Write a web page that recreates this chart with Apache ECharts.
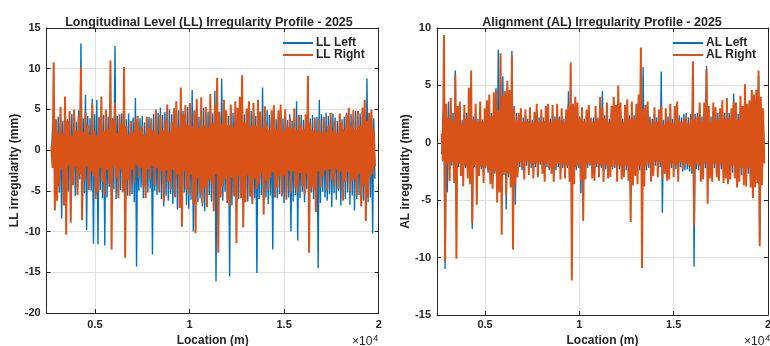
<!DOCTYPE html>
<html>
<head>
<meta charset="utf-8">
<script src="https://cdn.jsdelivr.net/npm/echarts@6/dist/echarts.min.js"></script>
<style>
  html, body { margin: 0; padding: 0; background: #fff; }
  #chart { width: 770px; height: 346px; }
</style>
</head>
<body>
<div id="chart"></div>
<script>
// sampling grid of the track location (m)
const locStart = 2700;
const locStep = 60;
const xTicks = [5000, 10000, 15000, 20000];

// Longitudinal level (mm)
const llLeft = [
  -0.8, 2.9, 4.4, -4.2, 3.6, -3.9, 4.1, -5.2, 3.3, -8.4,
  3.6, -4.4, 5.2, -7.6, 3.8, -5.1, 3.2, -4.8, 4.4, -3.9,
  4.6, -5.6, 3.5, -4.7, 4.9, -3.6, 13.1, -6.5, 3.9, -5.3,
  6.8, -9.8, 4.2, -4.6, 3.9, -5.0, 6.3, -11.5, 4.4, -5.4,
  6.2, -11.6, 4.0, -4.9, 3.6, -5.9, 4.3, -11.7, 5.0, -5.8,
  4.1, -4.5, 4.0, -5.1, 3.9, -4.8, 12.8, -6.0, 4.2, -5.3,
  3.7, -4.9, 4.5, -5.2, 4.4, -6.3, 3.8, -5.6, 4.5, -4.2,
  3.6, -5.4, 4.0, -6.4, 6.4, -14.3, 3.5, -5.0, 3.9, -4.6,
  4.2, -5.9, 3.4, -4.3, 3.8, -5.2, 4.1, -4.7, 3.5, -12.8,
  4.4, -5.0, 3.9, -5.5, 4.6, -4.8, 5.2, -6.0, 4.3, -6.9,
  4.7, -5.6, 4.0, -6.2, 5.0, -5.4, 4.4, -6.6, 5.1, -5.8,
  4.6, -7.3, 4.9, -6.3, 4.5, -5.9, 4.8, -5.2, 4.2, -6.7,
  5.3, -7.2, 4.6, -6.1, 7.4, -10.0, 4.9, -5.7, 5.5, -6.4,
  4.1, -5.9, 4.8, -6.9, 5.2, -7.5, 4.4, -6.0, 4.7, -5.5,
  4.5, -6.3, 4.5, -5.8, 7.3, -16.1, 4.9, -8.2, 4.3, -5.6,
  8.8, -6.2, 4.6, -5.1, 3.8, -5.9, 4.2, -15.5, 4.9, -6.8,
  4.6, -5.4, 4.1, -5.7, 3.9, -6.0, 4.3, -5.2, 3.7, -5.8,
  4.4, -5.0, 3.6, -6.3, 4.0, -5.5, 4.8, -6.2, 4.4, -5.9,
  4.2, -15.1, 4.4, -6.0, 4.7, -5.5, 7.7, -6.3, 4.5, -5.8,
  4.9, -6.6, 4.3, -5.6, 4.0, -12.2, 4.6, -5.1, 3.8, -5.9,
  4.2, -5.4, 4.1, -5.7, 3.9, -6.5, 4.3, -5.2, 3.7, -5.8,
  4.4, -10.0, 3.6, -6.3, 4.0, -5.5, 6.0, -11.1, 4.2, -5.9,
  4.3, -5.1, 3.7, -6.4, 4.0, -4.8, 3.5, -5.6, 3.9, -5.2,
  4.3, -6.0, 3.6, -5.3, 4.1, -14.5, 6.2, -6.5, 4.4, -5.1,
  3.7, -5.8, 4.6, -6.2, 4.2, -5.4, 3.9, -7.0, 4.5, -5.3,
  4.0, -6.1, 3.6, -5.0, 4.3, -6.8, 3.8, -5.4, 4.1, -6.0,
  4.6, -5.2, 4.0, -6.7, 4.4, -5.6, 3.9, -7.4, 4.8, -6.0,
  4.2, -5.5, 4.5, -6.9, 4.1, -6.2, 4.6, -7.0, 8.8, -6.4,
  4.5, -5.8, 4.0, -10.2, 3.9, -3.5
];
const llRight = [
  0.5, -2.2, 10.8, -7.4, 3.8, -6.2, 2.1, -4.4, 5.3, -2.4,
  2.0, -6.8, 6.6, -10.4, 3.6, -1.9, 4.8, -8.9, 1.8, -4.3,
  5.0, -2.1, 2.4, -5.5, 4.2, -3.0, 10.2, -8.6, 2.2, -3.8,
  4.6, -2.0, 3.1, -4.9, 1.9, -2.6, 5.7, -3.2, 2.5, -6.0,
  1.8, -5.1, 4.0, -2.2, 6.6, -3.9, 2.3, -5.5, 4.9, -2.4,
  2.6, -4.2, 11.0, -12.2, 3.7, -2.0, 5.8, -3.4, 2.1, -5.9,
  4.4, -2.3, 3.2, -5.0, 10.2, -13.2, 2.9, -3.6, 1.9, -5.6,
  3.5, -2.4, 2.2, -4.1, 3.8, -1.8, 4.2, -3.3, 2.6, -2.2,
  3.0, -4.6, 1.9, -5.9, 4.1, -2.3, 2.7, -3.6, 3.9, -2.0,
  2.4, -4.4, 5.0, -2.2, 2.0, -5.2, 4.3, -2.6, 2.5, -6.3,
  3.6, -2.5, 5.6, -3.9, 2.2, -4.8, 3.4, -2.4, 5.1, -5.7,
  6.0, -3.0, 2.8, -7.1, 7.7, -9.4, 4.4, -2.6, 5.5, -4.9,
  3.1, -5.5, 5.8, -3.0, 2.9, -6.6, 4.8, -10.2, 6.3, -3.4,
  2.7, -5.2, 6.5, -6.4, 3.0, -4.6, 5.3, -7.0, 2.8, -3.6,
  6.9, -4.1, 3.3, -7.5, 5.6, -3.0, 8.9, -12.6, 4.7, -5.8,
  3.2, -4.4, 6.2, -3.5, 4.9, -6.5, 3.1, -6.8, 5.6, -3.3,
  2.9, -5.7, 6.0, -11.4, 5.2, -3.2, 6.6, -5.9, 9.2, -9.5,
  3.4, -6.4, 5.1, -3.1, 6.0, -5.7, 2.9, -6.6, 5.8, -3.5,
  3.0, -4.8, 6.2, -4.1, 4.7, -3.0, 2.8, -7.9, 5.4, -3.8,
  3.1, -5.0, 2.6, -3.4, 4.9, -2.7, 5.5, -5.8, 2.6, -4.6,
  4.9, -3.2, 5.6, -5.6, 2.4, -3.1, 5.0, -6.1, 2.8, -2.5,
  4.0, -5.3, 2.7, -2.6, 5.1, -4.6, 2.5, -5.2, 4.3, -2.8,
  3.1, -4.4, 2.6, -5.4, 4.4, -3.0, 9.1, -12.6, 3.3, -4.6,
  2.5, -5.0, 4.0, -7.6, 2.3, -2.6, 3.8, -4.6, 2.2, -3.2,
  4.1, -2.5, 2.2, -5.0, 3.0, -2.3, 4.6, -3.6, 2.4, -4.4,
  3.6, -2.4, 2.1, -4.8, 4.5, -2.6, 3.4, -6.2, 2.6, -3.9,
  4.4, -2.7, 5.2, -5.1, 2.9, -3.8, 4.9, -3.6, 2.6, -5.6,
  4.8, -2.9, 3.0, -6.9, 5.2, -4.3, 6.2, -8.7, 3.6, -5.8,
  4.6, -3.3, 5.0, -3.0, 2.6, -2.0
];

// Alignment (mm)
const alLeft = [
  -1.0, 2.2, 3.0, -11.0, 2.6, -4.3, 3.6, -2.3, 2.4, -2.0,
  2.6, -2.8, 6.3, -3.4, 2.2, -2.1, 3.2, -2.5, 2.0, -2.7,
  2.5, -2.2, 2.6, -2.4, 3.9, -2.6, 2.4, -7.5, 2.3, -2.1,
  2.6, -2.4, 2.1, -2.6, 3.0, -2.3, 2.0, -2.8, 2.5, -2.2,
  2.8, -2.6, 3.2, -3.0, 2.6, -3.3, 3.1, -2.7, 4.8, -3.6,
  8.1, -3.4, 5.5, -3.9, 5.8, -2.8, 3.5, -5.8, 5.0, -3.0,
  3.6, -3.1, 8.0, -3.5, 3.2, -5.4, 2.6, -2.6, 2.3, -2.1,
  2.5, -2.4, 2.2, -2.7, 2.4, -2.0, 2.1, -2.3, 2.5, -2.2,
  2.0, -2.5, 2.3, -2.1, 2.7, -2.6, 2.2, -1.9, 2.4, -2.3,
  2.2, -2.7, 2.5, -2.1, 2.8, -2.4, 2.1, -2.2, 2.6, -2.9,
  2.3, -2.4, 2.7, -2.1, 2.3, -2.6, 2.4, -2.2, 2.1, -2.5,
  2.3, -2.2, 4.5, -2.8, 2.6, -2.9, 2.6, -2.9, 3.2, -2.4,
  2.7, -2.2, 2.3, -4.4, 2.4, -3.4, 2.1, -2.5, 2.3, -2.2,
  2.6, -2.0, 2.2, -2.4, 2.2, -2.7, 2.5, -2.1, 2.2, -2.3,
  3.4, -2.2, 4.5, -2.6, 2.4, -2.3, 2.7, -2.4, 2.1, -2.3,
  2.5, -2.3, 3.6, -2.2, 2.6, -2.6, 3.3, -2.3, 2.7, -2.4,
  2.1, -2.3, 2.5, -2.4, 2.9, -2.5, 2.4, -4.2, 2.7, -2.8,
  2.4, -2.2, 2.6, -2.7, 3.4, -2.4, 4.0, -3.6, 6.6, -2.9,
  2.5, -2.4, 2.8, -2.2, 2.3, -2.6, 2.1, -2.3, 2.4, -2.0,
  2.2, -2.4, 2.3, -2.1, 6.2, -6.1, 2.0, -2.2, 2.4, -2.5,
  2.3, -2.5, 2.6, -2.2, 2.1, -2.4, 2.5, -2.3, 2.7, -2.6,
  2.4, -2.1, 2.2, -2.5, 2.5, -2.4, 2.6, -2.3, 2.2, -2.5,
  2.5, -2.7, 5.8, -10.8, 2.5, -2.3, 2.6, -2.4, 2.8, -2.7,
  2.3, -2.5, 2.7, -2.2, 6.7, -3.5, 2.5, -2.5, 2.3, -2.6,
  2.7, -2.2, 2.5, -2.4, 2.6, -2.6, 2.4, -2.3, 2.9, -2.7,
  2.6, -2.5, 3.1, -2.8, 2.6, -2.5, 2.4, -2.6, 4.3, -2.5,
  2.7, -3.0, 2.5, -2.7, 3.2, -2.8, 2.6, -2.9, 3.6, -3.0,
  2.8, -2.7, 3.6, -3.1, 4.5, -3.9, 3.3, -3.1, 3.7, -2.9,
  5.8, -8.4, 3.2, -2.9, 2.4, -1.7
];
const alRight = [
  0.8, -1.6, 9.4, -10.4, 3.4, -1.8, 2.2, -3.3, 3.9, -1.7,
  1.9, -3.5, 5.9, -10.1, 3.2, -1.8, 3.6, -2.9, 1.7, -3.8,
  3.3, -2.0, 2.1, -3.1, 4.8, -3.6, 6.3, -7.0, 2.0, -1.9,
  3.4, -5.4, 1.8, -2.9, 3.6, -2.1, 1.9, -3.5, 3.0, -2.0,
  3.7, -2.4, 4.2, -3.6, 2.3, -4.0, 4.4, -2.5, 4.6, -5.2,
  2.8, -4.3, 7.8, -8.0, 4.1, -2.6, 4.5, -4.6, 5.4, -2.7,
  4.6, -3.9, 7.6, -9.3, 2.9, -3.6, 2.0, -3.0, 2.6, -1.7,
  3.0, -2.2, 1.8, -3.2, 2.9, -1.6, 1.9, -2.8, 3.1, -1.8,
  1.7, -3.1, 2.7, -1.8, 3.4, -3.0, 1.8, -1.7, 2.9, -2.7,
  1.9, -3.4, 3.2, -1.8, 3.4, -2.2, 1.8, -2.7, 3.3, -3.4,
  2.0, -2.1, 3.4, -1.8, 2.0, -3.2, 3.0, -1.9, 1.8, -3.1,
  2.9, -2.0, 3.3, -3.4, 7.0, -12.0, 3.4, -3.6, 4.0, -2.1,
  3.5, -1.9, 2.1, -3.3, 3.1, -6.8, 1.9, -3.2, 2.9, -1.9,
  3.3, -1.8, 2.0, -3.1, 1.9, -3.3, 3.2, -1.8, 2.0, -3.0,
  4.0, -2.0, 3.0, -3.4, 2.1, -1.9, 3.5, -3.1, 1.8, -3.0,
  3.2, -2.1, 4.0, -1.9, 3.3, -3.4, 5.0, -2.0, 3.5, -3.2,
  1.8, -3.0, 3.3, -2.0, 3.8, -3.3, 2.1, -6.9, 3.6, -3.7,
  2.1, -2.9, 3.4, -3.6, 4.2, -2.0, 8.3, -10.9, 2.9, -3.8,
  3.3, -2.0, 3.6, -1.8, 2.0, -3.4, 1.7, -2.9, 3.1, -1.6,
  1.8, -3.0, 2.9, -1.7, 3.2, -3.1, 1.6, -2.7, 3.0, -3.3,
  1.9, -3.2, 3.4, -1.8, 1.7, -3.0, 3.2, -1.9, 3.6, -3.4,
  2.0, -1.7, 1.8, -2.3, 2.1, -1.9, 2.3, -1.8, 1.7, -2.1,
  2.2, -2.4, 7.1, -7.2, 2.1, -1.8, 2.3, -2.0, 3.5, -3.4,
  1.9, -3.2, 3.5, -1.8, 6.4, -5.3, 3.2, -3.1, 1.9, -3.4,
  3.5, -1.8, 3.1, -3.0, 2.0, -3.3, 3.0, -1.9, 3.7, -3.5,
  2.1, -3.1, 3.9, -3.6, 2.2, -3.2, 3.0, -2.0, 3.6, -3.1,
  3.5, -3.9, 2.0, -3.4, 4.1, -2.2, 3.2, -3.7, 5.1, -3.8,
  3.4, -2.2, 3.7, -3.9, 4.6, -4.8, 4.2, -3.9, 4.6, -3.5,
  6.3, -9.0, 4.0, -3.7, 3.0, -1.8
];

const BLUE = '#0072BD';
const ORANGE = '#D95319';
const INK = '#262626';
const GRIDC = '#dfdfdf';
const FONT = 'Liberation Sans, Arial, sans-serif';

const toXY = arr => arr.map((v, i) => [locStart + i * locStep, v]);

function bottomAxis(gi, gap, margin) {
  return {
    type: 'value', gridIndex: gi, min: 2450, max: 20000,
    axisLine: { show: true, onZero: false, lineStyle: { color: INK } },
    axisTick: { show: true, inside: true, length: 4, customValues: xTicks, lineStyle: { color: INK } },
    axisLabel: { customValues: xTicks, formatter: v => String(v / 10000), color: INK,
      fontWeight: 'bold', fontSize: 11, fontFamily: FONT, margin: margin },
    splitLine: { show: true, lineStyle: { color: GRIDC } },
    name: 'Location (m)', nameLocation: 'middle', nameGap: gap,
    nameTextStyle: { color: INK, fontWeight: 'bold', fontSize: 12, fontFamily: FONT }
  };
}
function topAxis(gi) {
  return {
    type: 'value', gridIndex: gi, position: 'top', min: 2450, max: 20000,
    axisLine: { show: true, onZero: false, lineStyle: { color: INK } },
    axisTick: { show: true, inside: true, length: 4, customValues: xTicks, lineStyle: { color: INK } },
    axisLabel: { show: false }, splitLine: { show: false }
  };
}
function leftAxis(gi, min, max, name) {
  return {
    type: 'value', gridIndex: gi, min: min, max: max, interval: 5,
    axisLine: { show: true, onZero: false, lineStyle: { color: INK } },
    axisTick: { show: true, inside: true, length: 4, lineStyle: { color: INK } },
    axisLabel: { color: INK, fontWeight: 'bold', fontSize: 11, fontFamily: FONT, margin: 6 },
    splitLine: { show: true, lineStyle: { color: GRIDC } },
    name: name, nameLocation: 'middle', nameGap: 25, nameRotate: 90,
    nameTextStyle: { color: INK, fontWeight: 'bold', fontSize: 12, fontFamily: FONT }
  };
}
function rightAxis(gi, min, max) {
  return {
    type: 'value', gridIndex: gi, position: 'right', min: min, max: max, interval: 5,
    axisLine: { show: true, onZero: false, lineStyle: { color: INK } },
    axisTick: { show: true, inside: true, length: 4, lineStyle: { color: INK } },
    axisLabel: { show: false }, splitLine: { show: false }
  };
}
function line(name, data, color, width, xi, yi) {
  return {
    name: name, type: 'line', data: toXY(data), xAxisIndex: xi, yAxisIndex: yi,
    symbol: 'none', lineStyle: { color: color, width: width }, itemStyle: { color: color }
  };
}
function legend(names, left) {
  return {
    data: names, orient: 'vertical', left: left, top: 37, padding: 0,
    icon: 'rect', itemWidth: 30, itemHeight: 2, itemGap: 0,
    textStyle: { color: INK, fontWeight: 'bold', fontSize: 12, fontFamily: FONT, lineHeight: 11,
      padding: [0, 0, 0, -2] },
    selectedMode: false
  };
}

const chart = echarts.init(document.getElementById('chart'), null, { renderer: 'canvas' });
chart.setOption({
  animation: false,
  backgroundColor: '#fff',
  title: [
    { text: 'Longitudinal Level (LL) Irregularity Profile - 2025', left: 204, top: 11, textAlign: 'center',
      textStyle: { color: INK, fontWeight: 'bold', fontSize: 12.5, fontFamily: FONT } },
    { text: 'Alignment (AL) Irregularity Profile - 2025', left: 597, top: 11, textAlign: 'center',
      textStyle: { color: INK, fontWeight: 'bold', fontSize: 12.5, fontFamily: FONT } }
  ],
  legend: [legend(['LL Left', 'LL Right'], 283), legend(['AL Left', 'AL Right'], 673)],
  grid: [
    { left: 46.7, top: 28, width: 332, height: 285, outerBoundsMode: 'none', containLabel: false },
    { left: 437, top: 28, width: 331, height: 287, outerBoundsMode: 'none', containLabel: false }
  ],
  xAxis: [bottomAxis(0, 21, 6), topAxis(0), bottomAxis(1, 19, 4), topAxis(1)],
  yAxis: [leftAxis(0, -20, 15, 'LL irregularity (mm)'), rightAxis(0, -20, 15),
          leftAxis(1, -15, 10, 'AL irregularity (mm)'), rightAxis(1, -15, 10)],
  series: [
    line('LL Left', llLeft, BLUE, 1.4, 0, 0),
    line('LL Right', llRight, ORANGE, 2, 0, 0),
    line('AL Left', alLeft, BLUE, 1.4, 2, 2),
    line('AL Right', alRight, ORANGE, 2, 2, 2)
  ],
  graphic: [
    { type: 'text', left: 352, top: 334, style: { text: '×10{s|4}', fill: INK, font: '12px ' + FONT,
      rich: { s: { fontSize: 9, verticalAlign: 'top', padding: [0, 0, 6, 1] } } } },
    { type: 'text', left: 744, top: 334, style: { text: '×10{s|4}', fill: INK, font: '12px ' + FONT,
      rich: { s: { fontSize: 9, verticalAlign: 'top', padding: [0, 0, 6, 1] } } } }
  ]
});
</script>
</body>
</html>
